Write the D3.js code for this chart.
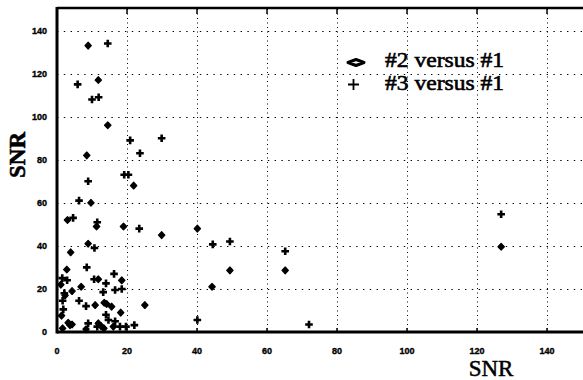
<!DOCTYPE html>
<html>
<head>
<meta charset="utf-8">
<script src="https://cdn.jsdelivr.net/npm/d3@7"></script>
<style>
  body { margin: 0; background: #fff; }
  .tick-label { font-family: "Liberation Sans", Arial, sans-serif; font-weight: bold; font-size: 9px; stroke: #000; stroke-width: 0.35px; }
  .serif { font-family: "Liberation Serif", "Times New Roman", serif; }
</style>
</head>
<body>
<script>
// #2 versus #1 (diamonds)
var diamondX = [8.9, 11.8, 14.5, 8.5, 21.9, 9.7, 3.0, 11.3, 19.0, 29.9, 40.1, 8.9, 3.9, 2.8, 1.1, 11.8, 18.5, 4.3, 6.9, 2.3,
                10.9, 13.5, 14.2, 15.6, 25.1, 1.3, 18.2, 3.2, 3.7, 4.3, 8.3, 11.8, 12.6, 13.4, 16.1, 1.6, 49.4, 44.3, 65.2, 126.9];
var diamondY = [133, 117, 96, 82, 68, 60, 52, 49, 49, 45, 48, 41, 37, 29, 22, 24.5, 24, 19, 21, 17,
                12.5, 13.6, 13, 11.8, 12.5, 7.6, 9, 4.3, 3.2, 3.5, 1.3, 4, 2.7, 1.7, 2.5, 1.7, 28.6, 21, 28.6, 39.6];
// #3 versus #1 (pluses)
var plusX = [14.5, 5.9, 10.0, 11.9, 20.9, 29.9, 23.7, 8.9, 19.2, 20.4, 6.3, 4.6, 11.5, 23.5, 10.7, 8.5, 1.5, 2.9, 10.6, 16.3,
             14.0, 18.5, 16.6, 2.1, 13.2, 1.6, 6.3, 8.3, 1.8, 14.0, 8.9, 11.5, 14.7, 16.6, 18.0, 19.7, 22.1, 44.5, 49.4, 65.2,
             40.1, 72.0, 126.9];
var plusY = [134, 115, 108, 109, 89, 90, 83, 70, 73, 73, 61, 53, 51, 48, 39, 30, 25, 24, 24.5, 27,
             22.6, 20, 19.5, 18, 18.5, 14.5, 14.5, 12, 10.5, 8, 4, 2.5, 5.6, 5, 2.5, 2.5, 3.2, 40.7, 42, 37.5,
             5.6, 3.5, 54.7];
var tickValues = [0, 20, 40, 60, 80, 100, 120, 140];
var legendLabels = ["#2 versus #1", "#3 versus #1"];

function plot_it() {
    var width = 583, height = 380;
    var left = 57, right = 582, plotTop = 9, bottom = 332;

    var svg = d3.select("body").append("svg").attr("width", width).attr("height", height);

    var x = d3.scaleLinear().domain([0, 150]).range([left, right]);
    var y = d3.scaleLinear().domain([0, 150]).range([bottom, plotTop]);

    // dotted grid
    svg.append("g").selectAll("line").data(tickValues.slice(1)).enter().append("line")
        .attr("x1", function (d) { return Math.round(x(d)) + 0.5; }).attr("x2", function (d) { return Math.round(x(d)) + 0.5; })
        .attr("y1", plotTop).attr("y2", bottom)
        .attr("stroke", "#000").attr("stroke-width", 1).style("stroke-dasharray", "1,3.5");
    svg.append("g").selectAll("line").data(tickValues.slice(1)).enter().append("line")
        .attr("x1", left).attr("x2", width)
        .attr("y1", function (d) { return Math.round(y(d)) + 0.5; }).attr("y2", function (d) { return Math.round(y(d)) + 0.5; })
        .attr("stroke", "#000").attr("stroke-width", 1.2).style("stroke-dasharray", "1.4,5.4");

    // frame
    svg.append("line").attr("x1", left).attr("x2", width).attr("y1", plotTop - 1).attr("y2", plotTop - 1)
        .attr("stroke", "#000").attr("stroke-width", 2.5);
    svg.append("line").attr("x1", left).attr("x2", left).attr("y1", plotTop - 2).attr("y2", bottom + 1.5)
        .attr("stroke", "#000").attr("stroke-width", 3);
    svg.append("line").attr("x1", left).attr("x2", width).attr("y1", bottom).attr("y2", bottom)
        .attr("stroke", "#000").attr("stroke-width", 3);

    // inward ticks on top and bottom
    svg.append("g").selectAll("line").data(tickValues.slice(1)).enter().append("line")
        .attr("x1", function (d) { return x(d); }).attr("x2", function (d) { return x(d); })
        .attr("y1", plotTop).attr("y2", plotTop + 5).attr("stroke", "#000").attr("stroke-width", 1.5);
    svg.append("g").selectAll("line").data(tickValues.slice(1)).enter().append("line")
        .attr("x1", function (d) { return x(d); }).attr("x2", function (d) { return x(d); })
        .attr("y1", bottom - 4).attr("y2", bottom).attr("stroke", "#000").attr("stroke-width", 1.5);

    // tick labels
    svg.append("g").selectAll("text").data(tickValues).enter().append("text")
        .attr("class", "tick-label")
        .attr("x", 47).attr("y", function (d) { return y(d) + 3; })
        .attr("text-anchor", "end")
        .text(function (d) { return d; });
    svg.append("g").selectAll("text").data(tickValues).enter().append("text")
        .attr("class", "tick-label")
        .attr("x", function (d) { return x(d); }).attr("y", 354)
        .attr("text-anchor", "middle")
        .text(function (d) { return d; });

    // axis titles
    svg.append("text")
        .attr("class", "serif")
        .attr("transform", "translate(25,155) rotate(-90)")
        .attr("text-anchor", "middle")
        .style("font-weight", "bold").style("font-size", "23px")
        .style("stroke", "#000").style("stroke-width", "0.6px")
        .text("SNR");
    svg.append("text")
        .attr("class", "serif")
        .attr("x", 491).attr("y", 376)
        .attr("text-anchor", "middle")
        .style("font-size", "23px")
        .style("stroke", "#000").style("stroke-width", "0.5px")
        .text("SNR");

    // markers
    var diamondData = diamondX.map(function (d, i) { return [d, diamondY[i]]; });
    var plusData = plusX.map(function (d, i) { return [d, plusY[i]]; });

    svg.append("g").selectAll("path").data(diamondData).enter().append("path")
        .attr("transform", function (d) { return "translate(" + x(d[0]) + "," + y(d[1]) + ")"; })
        .attr("d", "M0,-3.4L3.2,0L0,3.4L-3.2,0Z")
        .attr("fill", "#000").attr("stroke", "#000").attr("stroke-width", 1.2).attr("stroke-linejoin", "round");

    svg.append("g").selectAll("path").data(plusData).enter().append("path")
        .attr("transform", function (d) { return "translate(" + x(d[0]) + "," + y(d[1]) + ")"; })
        .attr("d", "M-3.8,0H3.8M0,-3.8V3.8")
        .attr("fill", "none").attr("stroke", "#000").attr("stroke-width", 2.6);

    // legend
    var legend = svg.append("g");
    legend.append("path")
        .attr("transform", "translate(356,62.5)")
        .attr("d", "M-8,0L0,-3L8,0L0,3Z")
        .attr("fill", "none").attr("stroke", "#000").attr("stroke-width", 3).attr("stroke-linejoin", "round");
    legend.append("path")
        .attr("transform", "translate(353.5,84.5)")
        .attr("d", "M-5.5,0H5.5M0,-5.5V5.5")
        .attr("fill", "none").attr("stroke", "#000").attr("stroke-width", 1.8);
    legend.selectAll("text").data(legendLabels).enter().append("text")
        .attr("class", "serif")
        .attr("x", 385).attr("y", function (d, i) { return 67 + i * 23; })
        .attr("textLength", 119).attr("lengthAdjust", "spacingAndGlyphs")
        .style("font-size", "21px")
        .style("stroke", "#000").style("stroke-width", "0.6px")
        .text(function (d) { return d; });
}
plot_it();
</script>
</body>
</html>
